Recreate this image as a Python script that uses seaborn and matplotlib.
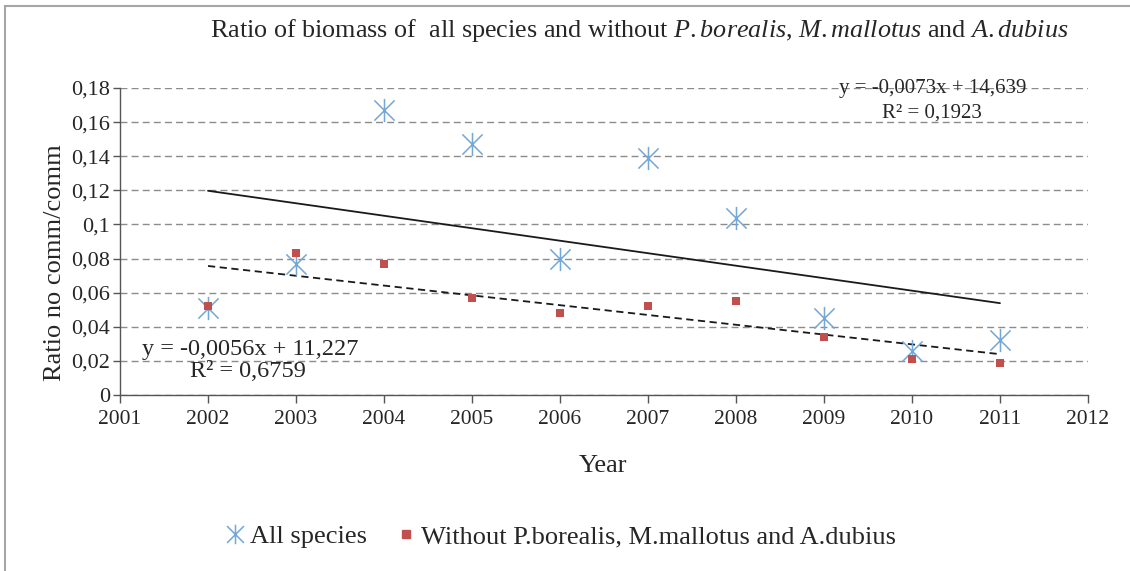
import numpy as np
import pandas as pd
import seaborn as sns
import matplotlib.pyplot as plt
from matplotlib.path import Path
from matplotlib.lines import Line2D
from matplotlib.patches import Rectangle

sns.set_theme(style='white')
plt.rcParams['font.family'] = ['Liberation Serif', 'DejaVu Serif']
plt.rcParams['mathtext.fontset'] = 'custom'
plt.rcParams['mathtext.rm'] = 'Liberation Serif'
plt.rcParams['mathtext.it'] = 'Liberation Serif:italic'

years = [2002, 2003, 2004, 2005, 2006, 2007, 2008, 2009, 2010, 2011]
all_species = [0.051, 0.077, 0.167, 0.147, 0.080, 0.139, 0.104, 0.045, 0.026, 0.032]
without_three = [0.052, 0.083, 0.077, 0.057, 0.048, 0.052, 0.055, 0.034, 0.021, 0.019]
y_ticks = [0, 0.02, 0.04, 0.06, 0.08, 0.1, 0.12, 0.14, 0.16, 0.18]
y_tick_labels = ['0', '0,02', '0,04', '0,06', '0,08', '0,1', '0,12', '0,14', '0,16', '0,18']
x_ticks = list(range(2001, 2013))

df = pd.DataFrame({'year': years, 'all': all_species, 'without': without_three})

blue = '#72A7D8'
red = '#C0504D'
txt = '#262626'

# excel style asterisk: an X plus a vertical bar
star = Path([(-1, -1), (1, 1), (-1, 1), (1, -1), (0, -1.15), (0, 1.15)],
            [Path.MOVETO, Path.LINETO, Path.MOVETO, Path.LINETO, Path.MOVETO, Path.LINETO])

fig = plt.figure(figsize=(11.3, 5.71), dpi=100)
ax = fig.add_axes([0.1062, 0.3082, 0.8566, 0.5377])

for y in y_ticks:
    ax.axhline(y, color='#8c8c8c', linestyle=(0, (5, 3)), linewidth=1, zorder=0)

sns.scatterplot(data=df, x='year', y='all', marker=star, s=280, color=blue,
                edgecolor=blue, linewidth=1.1, ax=ax, zorder=3)
sns.scatterplot(data=df, x='year', y='without', marker='s', s=40, color=red,
                edgecolor=red, linewidth=0, ax=ax, zorder=4)
sns.regplot(data=df, x='year', y='all', scatter=False, ci=None, ax=ax,
            line_kws={'color': '#1a1a1a', 'linewidth': 1.3, 'zorder': 2})
sns.regplot(data=df, x='year', y='without', scatter=False, ci=None, ax=ax,
            line_kws={'color': '#1a1a1a', 'linewidth': 1.3, 'linestyle': (0, (4, 2.5)), 'zorder': 2})

ax.set_xlim(2001, 2012)
ax.set_ylim(0, 0.18)
ax.set_xticks(x_ticks)
ax.set_xticklabels([str(x) for x in x_ticks], fontsize=15.5)
ax.set_yticks(y_ticks)
ax.set_yticklabels(y_tick_labels, fontsize=16)
ax.tick_params(axis='x', direction='out', length=6, width=1, color='#555555',
               bottom=True, pad=5, labelcolor=txt)
ax.tick_params(axis='y', direction='out', length=5, width=1, color='#555555',
               left=True, pad=2, labelcolor=txt)
for side in ['top', 'right']:
    ax.spines[side].set_visible(False)
for side in ['left', 'bottom']:
    ax.spines[side].set_color('#555555')
    ax.spines[side].set_linewidth(1)
ax.set_xlabel('Year', fontsize=19, color=txt)
ax.xaxis.set_label_coords(0.499, -0.195)
ax.set_ylabel('Ratio no comm/comm', fontsize=19, color=txt)
ax.yaxis.set_label_coords(-0.056, 0.43)

ax.text(2010.23, 0.1795, 'y = -0,0073x + 14,639', ha='center', va='center', fontsize=15, color=txt)
ax.text(2010.23, 0.1655, 'R² = 0,1923', ha='center', va='center', fontsize=15, color=txt)
ax.text(2002.48, 0.0268, 'y = -0,0056x + 11,227', ha='center', va='center', fontsize=17.5, color=txt)
ax.text(2002.45, 0.0135, 'R² = 0,6759', ha='center', va='center', fontsize=17.5, color=txt)

fig.text(0.566, 0.947, 'Ratio of biomass of  all species and without $\\it{P.borealis}$, $\\it{M.mallotus}$ and $\\it{A.dubius}$',
         ha='center', va='center', fontsize=18.8, color=txt)

handles = [
    Line2D([], [], linestyle='none', marker=star, markersize=14, markeredgecolor=blue,
           markerfacecolor=blue, markeredgewidth=1.1, label='All species'),
    Line2D([], [], linestyle='none', marker='s', markersize=6, markerfacecolor=red,
           markeredgecolor=red, label='Without P.borealis, M.mallotus and A.dubius'),
]
fig.legend(handles=handles, loc='center', bbox_to_anchor=(0.497, 0.06), ncol=2, frameon=False,
           fontsize=19, handlelength=0.6, handletextpad=0.25, columnspacing=1.2)

fig.patches.append(Rectangle((0.0045, -0.05), 1.1, 1.04, transform=fig.transFigure,
                             fill=False, edgecolor='#a6a6a6', linewidth=1.5))

fig.savefig('out.png', dpi=100, facecolor='white')
